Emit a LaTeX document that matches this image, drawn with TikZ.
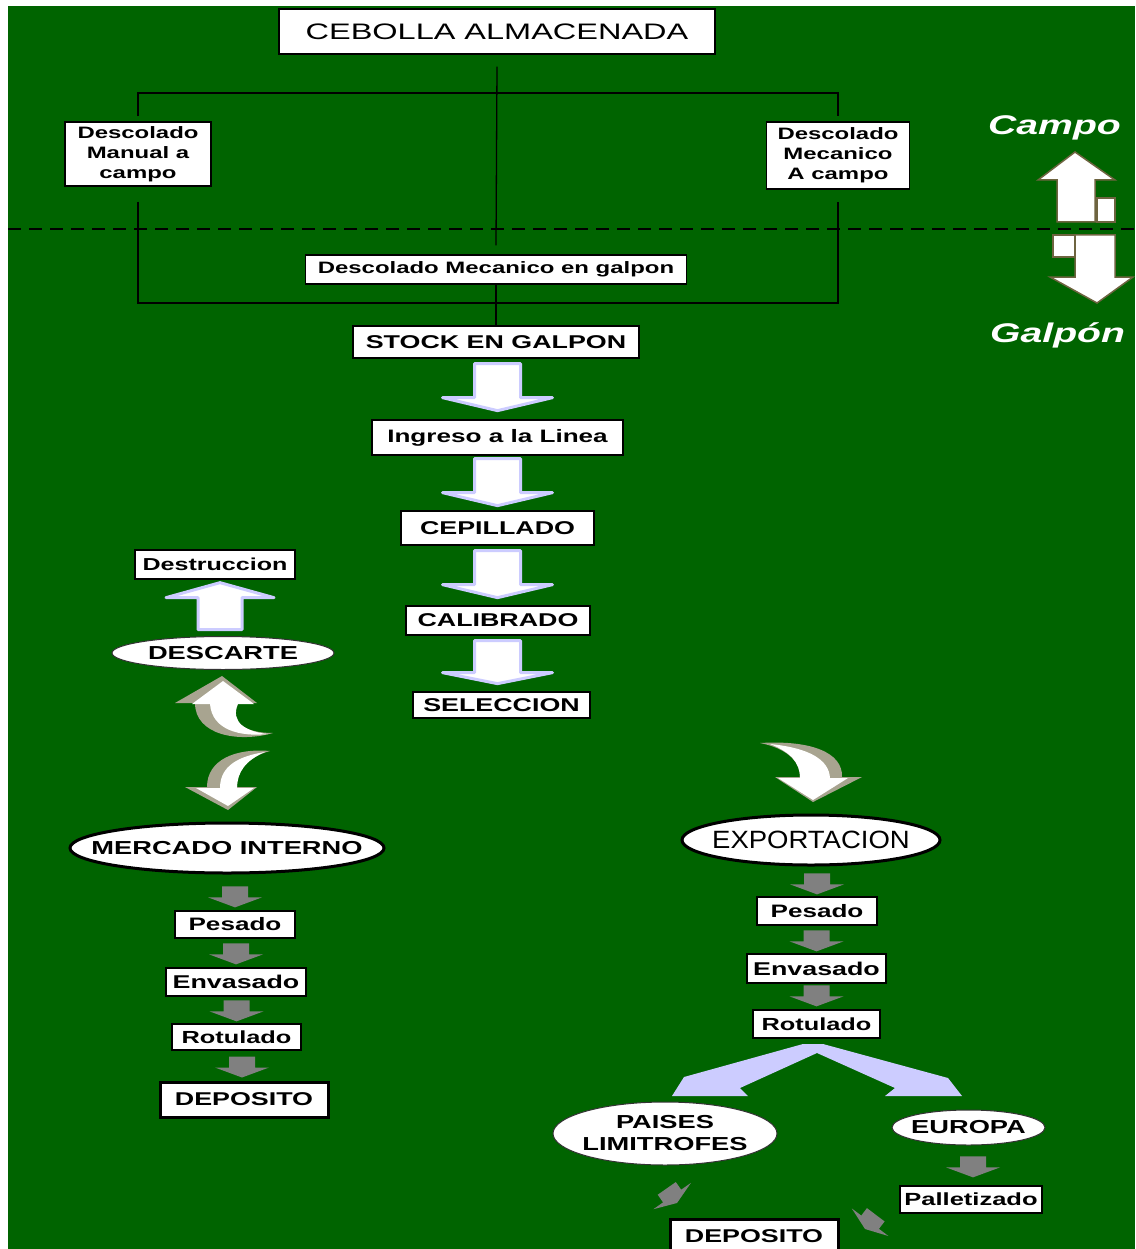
\documentclass[tikz,border=0pt]{standalone}
\usepackage{fontspec}
\setmainfont{Liberation Sans}[FakeStretch=1.45]
\newfontfamily\fuenteexpo{Liberation Sans}[FakeStretch=1.1]
\usepackage{tikz}
\usetikzlibrary{positioning}
\usetikzlibrary{shapes.geometric}
\definecolor{verde}{RGB}{0,100,0}
\definecolor{lila}{RGB}{204,204,255}
\definecolor{tostado}{RGB}{168,164,144}
\definecolor{gristono}{RGB}{128,128,128}
\definecolor{marron}{RGB}{110,100,64}

\begin{document}
\begin{tikzpicture}[x=1pt, y=-1pt,
    caja/.style={draw=black, line width=1.3pt, fill=white, inner sep=0pt, font=\bfseries\fontsize{18.5}{20}\selectfont},
    cajagruesa/.style={caja, line width=3pt},
    texto/.style={inner sep=0pt, font=\bfseries\fontsize{18.8}{22}\selectfont, align=center},
    borde/.style={fill=white, draw=black!80, line width=1pt},
    bordegrueso/.style={fill=white, draw=black, line width=3pt},
    linea/.style={black, line width=1.3pt},
    flechalila/.style={fill=white, draw=lila, line width=3pt, line join=round},
    flechagris/.style={fill=gristono},
    rotulo/.style={white, inner sep=0pt, font=\bfseries\itshape\fontsize{27}{30}\selectfont}]

    % Background
    \clip (0,0) rectangle (1135,1249);
    \fill[white] (0,0) rectangle (1135,1249);
    \fill[verde] (8,6) rectangle (1135,1249);
    \draw[black, line width=1.2pt, dash pattern=on 13pt off 8pt] (8,229) -- (1135,229);

    % Campo / Galpon
    \node[rotulo, anchor=base west] (campo) at (988,135) {Campo};
    \node[rotulo, anchor=base west] (galpon) at (990,342) {Galpón};
    \filldraw[fill=white, draw=marron, line width=1.5pt] (1057,222) -- (1057,180) -- (1038,180) -- (1075,152) -- (1115,180) -- (1095,180) -- (1095,222) -- cycle;
    \filldraw[fill=white, draw=marron, line width=1.5pt] (1097,198) rectangle (1115,222);
    \filldraw[fill=white, draw=marron, line width=1.5pt] (1075,235) -- (1115,235) -- (1115,277) -- (1133,277) -- (1097,303) -- (1050,277) -- (1075,277) -- cycle;
    \filldraw[fill=white, draw=marron, line width=1.5pt] (1053,235) rectangle (1075,257);

    % Top boxes
    \node[caja, minimum width=436, minimum height=45, font=\fontsize{22.4}{24}\selectfont] (ceb) at (497,31.5) {CEBOLLA ALMACENADA};
    \node[caja, minimum width=146, minimum height=64, align=center, font=\bfseries\fontsize{16.5}{20}\selectfont] (manual) at (138,154) {Descolado\\Manual a\\campo};
    \node[caja, minimum width=143, minimum height=67, align=center, font=\bfseries\fontsize{16.5}{20}\selectfont] (mecan) at (838,155.5) {Descolado\\Mecanico\\A campo};
    \node[caja, minimum width=381, minimum height=29, font=\bfseries\fontsize{16.5}{18}\selectfont] (galp) at (496,269.5) {Descolado Mecanico en galpon};
    \coordinate (rama) at (496,93);
    \coordinate (junta) at (496,303);

    % Tree lines
    \draw[linea] ([yshift=-12pt]ceb.south) -- ([yshift=9pt]galp.north);
    \draw[linea] ([yshift=5pt]manual.north) |- (rama) -| ([yshift=5pt]mecan.north);
    \draw[linea] ([yshift=-15pt]manual.south) |- (junta) -| ([yshift=-12pt]mecan.south);

    % Line
    \node[caja, minimum width=286, minimum height=32] (stock) at (496,342) {STOCK EN GALPON};
    \node[caja, minimum width=251, minimum height=35, font=\bfseries\fontsize{18}{20}\selectfont] (ingreso) at (497.5,437.5) {Ingreso a la Linea};
    \node[caja, minimum width=193, minimum height=34] (cepi) at (497.5,528) {CEPILLADO};
    \node[caja, minimum width=184, minimum height=29] (cali) at (498,620.5) {CALIBRADO};
    \node[caja, minimum width=177, minimum height=26] (selec) at (501.5,705) {SELECCION};
    \draw[linea] (galp.south) -- (stock.north);

    \filldraw[flechalila, shift={(stock.south -| ingreso.north)}, yshift=-52pt] (-23,-47) -- (23,-47) -- (23,-13) -- (55,-13) -- (0,0) -- (-55,-13) -- (-23,-13) -- cycle;
    \filldraw[flechalila, shift={(ingreso.south -| ingreso.north)}, yshift=-50pt] (-23,-47) -- (23,-47) -- (23,-13) -- (55,-13) -- (0,0) -- (-55,-13) -- (-23,-13) -- cycle;
    \filldraw[flechalila, shift={(cepi.south -| ingreso.north)}, yshift=-52pt] (-23,-47) -- (23,-47) -- (23,-13) -- (55,-13) -- (0,0) -- (-55,-13) -- (-23,-13) -- cycle;
    \filldraw[flechalila, shift={(cali.south -| ingreso.north)}, yshift=-48pt] (-23,-43) -- (23,-43) -- (23,-11) -- (55,-11) -- (0,0) -- (-55,-11) -- (-23,-11) -- cycle;

    % Descarte
    \node[caja, minimum width=160, minimum height=29, font=\bfseries\fontsize{17.3}{19}\selectfont] (destr) at (215,564.5) {Destruccion};
    \filldraw[borde] (223,653) ellipse [x radius=111, y radius=16.5];
    \node[texto] (descarte) at (223,653) {DESCARTE};
    \filldraw[flechalila, shift={(destr.south)}, xshift=5pt, yshift=-3pt, rotate=180] (-22,-47) -- (22,-47) -- (22,-15) -- (54,-15) -- (0,0) -- (-54,-15) -- (-22,-15) -- cycle;

    % curved arrows
    \fill[tostado] (175,703) -- (222,676) -- (257,703) -- (237,703) .. controls (228,722) and (245,733) .. (273,733) .. controls (238,743) and (195,735) .. (195,703) -- cycle;
    \fill[white] (192,704) -- (223,681) -- (254,704) -- (238,704) .. controls (230,722) and (246,732) .. (268,734) .. controls (240,737) and (212,730) .. (210,704) -- cycle;
    \fill[tostado] (185,787) -- (228,810) -- (257,787) -- (237,787) .. controls (237,770) and (248,757) .. (270,751) .. controls (235,748) and (207,760) .. (207,787) -- cycle;
    \fill[white] (196,788) -- (228,806) -- (254,788) -- (237,788) .. controls (237,772) and (246,760) .. (265,752) .. controls (240,756) and (220,765) .. (220,788) -- cycle;
    \fill[tostado] (775,777) -- (813,802) -- (862,777) -- (842,777) .. controls (843,752) and (810,740) .. (760,743) .. controls (785,748) and (800,760) .. (800,777) -- cycle;
    \fill[white] (778,778) -- (813,800) -- (848,778) -- (830,778) .. controls (829,760) and (810,748) .. (770,744) .. controls (790,752) and (800,762) .. (800,778) -- cycle;

    % Mercado interno
    \filldraw[bordegrueso] (227,848) ellipse [x radius=157, y radius=25];
    \node[texto] (mercado) at (227,848) {MERCADO INTERNO};
    \node[caja, minimum width=120, minimum height=27, font=\bfseries\fontsize{18}{20}\selectfont] (pesadoI) at (235,924.5) {Pesado};
    \node[caja, minimum width=140, minimum height=28] (envasI) at (236,982) {Envasado};
    \node[caja, minimum width=129, minimum height=26, font=\bfseries\fontsize{17.5}{19}\selectfont] (rotI) at (236.5,1037) {Rotulado};
    \node[cajagruesa, minimum width=168, minimum height=35] (depoI) at (244,1099.5) {DEPOSITO};

    \fill[flechagris, shift={(pesadoI.north)}, yshift=3pt] (-13,-21) -- (13,-21) -- (13,-10) -- (27,-10) -- (0,0) -- (-27,-10) -- (-13,-10) -- cycle;
    \fill[flechagris, shift={(envasI.north)}, yshift=3pt] (-13,-21) -- (13,-21) -- (13,-10) -- (27,-10) -- (0,0) -- (-27,-10) -- (-13,-10) -- cycle;
    \fill[flechagris, shift={(rotI.north)}, yshift=2pt] (-13,-21) -- (13,-21) -- (13,-10) -- (27,-10) -- (0,0) -- (-27,-10) -- (-13,-10) -- cycle;
    \fill[flechagris, shift={(depoI.north)}, yshift=3pt, xshift=-2pt] (-13,-21) -- (13,-21) -- (13,-10) -- (27,-10) -- (0,0) -- (-27,-10) -- (-13,-10) -- cycle;

    % Exportacion
    \filldraw[bordegrueso] (811,840) ellipse [x radius=129, y radius=25];
    \node[texto, font=\fuenteexpo\fontsize{25}{28}\selectfont] (expo) at (811,840) {EXPORTACION};
    \node[caja, minimum width=120, minimum height=28, font=\bfseries\fontsize{18}{20}\selectfont] (pesadoE) at (817,911) {Pesado};
    \node[caja, minimum width=139, minimum height=29] (envasE) at (816.5,968.5) {Envasado};
    \node[caja, minimum width=127, minimum height=28, font=\bfseries\fontsize{17.5}{19}\selectfont] (rotE) at (816.5,1024) {Rotulado};

    \fill[flechagris, shift={(pesadoE.north)}, yshift=2pt] (-13,-21) -- (13,-21) -- (13,-10) -- (27,-10) -- (0,0) -- (-27,-10) -- (-13,-10) -- cycle;
    \fill[flechagris, shift={(envasE.north)}, yshift=2pt] (-13,-21) -- (13,-21) -- (13,-10) -- (27,-10) -- (0,0) -- (-27,-10) -- (-13,-10) -- cycle;
    \fill[flechagris, shift={(rotE.north)}, yshift=3pt] (-13,-21) -- (13,-21) -- (13,-10) -- (27,-10) -- (0,0) -- (-27,-10) -- (-13,-10) -- cycle;

    % Destinos
    \fill[lila] (803,1044) -- (823,1044) -- (948,1078) -- (962,1096) -- (885,1096) -- (895,1088) -- (817,1053) -- (740,1088) -- (748,1096) -- (672,1096) -- (684,1077) -- cycle;
    \filldraw[borde] (665,1133.5) ellipse [x radius=112, y radius=31.5];
    \node[texto] (paises) at (665,1133.5) {PAISES\\LIMITROFES};
    \filldraw[borde] (968.5,1127.5) ellipse [x radius=76.5, y radius=17.5];
    \node[texto] (europa) at (968.5,1127.5) {EUROPA};
    \node[caja, minimum width=142, minimum height=27, font=\bfseries\fontsize{17.6}{19}\selectfont] (pallet) at (971,1199.5) {Palletizado};
    \node[cajagruesa, minimum width=168, minimum height=34] (depoE) at (754,1236) {DEPOSITO};

    \fill[flechagris, shift={(pallet.north)}, yshift=8pt, xshift=2pt] (-13,-21) -- (13,-21) -- (13,-10) -- (27,-10) -- (0,0) -- (-27,-10) -- (-13,-10) -- cycle;
    \fill[flechagris, shift={(677,1203)}, rotate=35, scale=0.85] (-13,-21) -- (13,-21) -- (13,-10) -- (27,-10) -- (0,0) -- (-27,-10) -- (-13,-10) -- cycle;
    \fill[flechagris, shift={(865,1229)}, rotate=-37, scale=0.85] (-13,-21) -- (13,-21) -- (13,-10) -- (27,-10) -- (0,0) -- (-27,-10) -- (-13,-10) -- cycle;

\end{tikzpicture}
\end{document}
